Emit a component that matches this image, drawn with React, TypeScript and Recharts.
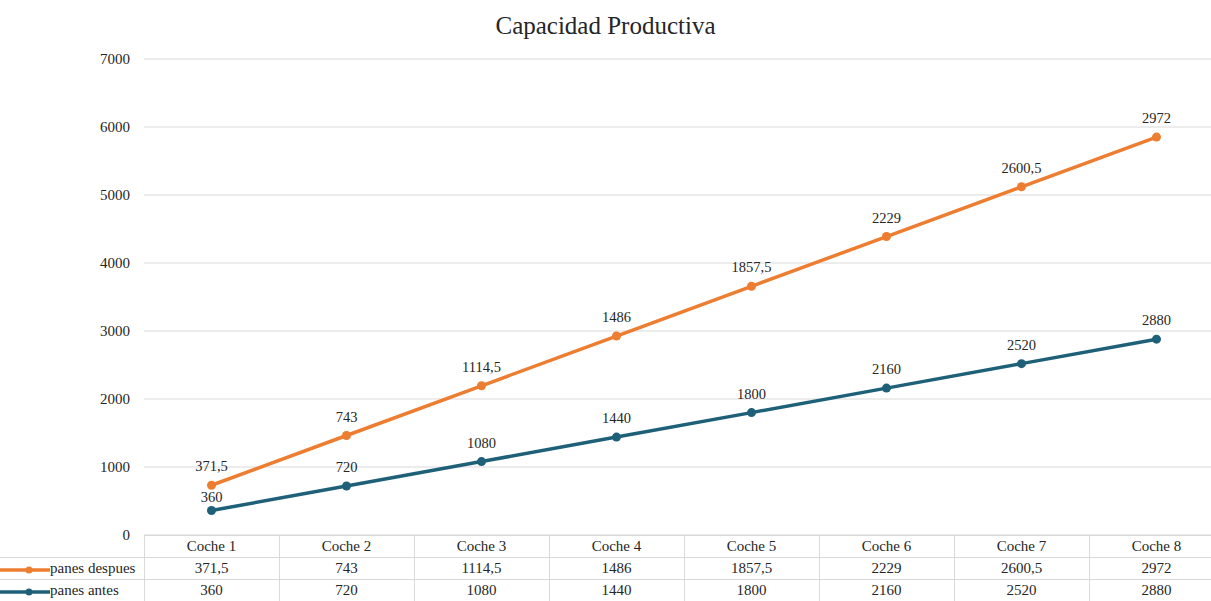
import { AreaChart, Area, XAxis, YAxis, CartesianGrid, LabelList } from "recharts";

const coches = ["Coche 1", "Coche 2", "Coche 3", "Coche 4", "Coche 5", "Coche 6", "Coche 7", "Coche 8"];
const panesDespues = [371.5, 743, 1114.5, 1486, 1857.5, 2229, 2600.5, 2972];
const panesAntes = [360, 720, 1080, 1440, 1800, 2160, 2520, 2880];
const yTicks = [0, 1000, 2000, 3000, 4000, 5000, 6000, 7000];

const ORANGE = "#ED7D31";
const BLUE = "#1F6079";
const FONT = "'Liberation Serif', 'Times New Roman', serif";
const GRID = "#d9d9d9";
const TEXT = "#262626";

const CHART_W = 1224;
const PLOT_LEFT = 144;
const PLOT_TOP = 59;
const PLOT_BOTTOM = 535;
const BAND = (CHART_W - PLOT_LEFT) / coches.length;
const ROW_H = 22;

const data = coches.map((coche, i) => ({
  coche,
  antes: panesAntes[i],
  despues: panesDespues[i],
}));

const fmt = (v: number) => String(v).replace(".", ",");

const series = [
  { name: "panes despues", values: panesDespues, color: ORANGE },
  { name: "panes antes", values: panesAntes, color: BLUE },
];

// solid round marker for each point
const makeDot = (color: string) => (props: any) => {
  const { cx, cy, index } = props;
  if (cx == null || cy == null) return <g key={index} />;
  return <circle key={index} cx={cx} cy={cy} r={4.5} fill={color} stroke="none" />;
};

// value label above the point; the first "antes" label sits closer so it
// stays clear of the orange line
const antesLabel = (props: any) => {
  const x = props.viewBox?.x ?? props.x;
  const y = props.viewBox?.y ?? props.y;
  const gap = props.index === 0 ? 9 : 14;
  return (
    <text
      x={x}
      y={y - gap}
      textAnchor="middle"
      fontSize={14.5}
      fill={TEXT}
      fontFamily={FONT}
    >
      {fmt(props.value)}
    </text>
  );
};

function LegendKey({ color }: { color: string }) {
  return (
    <svg width={50} height={10} style={{ verticalAlign: "middle" }}>
      <line x1={0} y1={5} x2={50} y2={5} stroke={color} strokeWidth={3.5} />
      <circle cx={29} cy={5} r={3.5} fill={color} />
    </svg>
  );
}

const cell: React.CSSProperties = {
  border: `1px solid ${GRID}`,
  height: ROW_H - 1,
  padding: 0,
  textAlign: "center",
  whiteSpace: "nowrap",
  lineHeight: "17px",
};

const labelStyle = { fontSize: 14.5, fill: TEXT, fontFamily: FONT };

export default function App() {
  return (
    <div
      style={{
        position: "absolute",
        left: 0,
        top: 0,
        width: 1211,
        height: 601,
        overflow: "hidden",
        background: "#fff",
        fontFamily: FONT,
        color: TEXT,
      }}
    >
      <div
        style={{
          position: "absolute",
          top: 12,
          left: 0,
          width: 1211,
          textAlign: "center",
          fontSize: 25,
          color: TEXT,
        }}
      >
        Capacidad Productiva
      </div>

      <div style={{ position: "absolute", left: 0, top: 0 }}>
        <AreaChart
          width={CHART_W}
          height={PLOT_BOTTOM + 12}
          data={data}
          margin={{ top: PLOT_TOP, right: 0, bottom: 12, left: 0 }}
        >
          <CartesianGrid vertical={false} stroke={GRID} />
          <XAxis dataKey="coche" hide padding={{ left: BAND / 2, right: BAND / 2 }} />
          <YAxis
            width={PLOT_LEFT}
            domain={[0, 7000]}
            ticks={yTicks}
            axisLine={false}
            tickLine={false}
            tickMargin={8}
            tick={{ fontSize: 15, fill: TEXT, fontFamily: FONT }}
          />
          <Area
            type="linear"
            dataKey="antes"
            stackId="panes"
            stroke={BLUE}
            strokeWidth={3.5}
            fill="none"
            fillOpacity={0}
            dot={makeDot(BLUE)}
            activeDot={false}
            isAnimationActive={false}
          >
            <LabelList dataKey="antes" content={antesLabel} />
          </Area>
          <Area
            type="linear"
            dataKey="despues"
            stackId="panes"
            stroke={ORANGE}
            strokeWidth={3.5}
            fill="none"
            fillOpacity={0}
            dot={makeDot(ORANGE)}
            activeDot={false}
            isAnimationActive={false}
          >
            <LabelList
              dataKey="despues"
              position="top"
              offset={14}
              formatter={(v: any) => fmt(v)}
              style={labelStyle}
            />
          </Area>
        </AreaChart>
      </div>

      {/* data table under the plot */}
      <table
        style={{
          position: "absolute",
          left: 0,
          top: PLOT_BOTTOM,
          width: CHART_W,
          borderCollapse: "collapse",
          tableLayout: "fixed",
          fontSize: 15,
          fontFamily: FONT,
          color: TEXT,
        }}
      >
        <colgroup>
          <col style={{ width: PLOT_LEFT }} />
          {coches.map((c) => (
            <col key={c} style={{ width: BAND }} />
          ))}
        </colgroup>
        <tbody>
          <tr>
            <td style={{ ...cell, border: "none", borderBottom: `1px solid ${GRID}`, borderRight: `1px solid ${GRID}` }} />
            {coches.map((c) => (
              <td key={c} style={cell}>
                {c}
              </td>
            ))}
          </tr>
          {series.map((s) => (
            <tr key={s.name}>
              <td style={{ ...cell, textAlign: "left", borderLeft: "none" }}>
                <LegendKey color={s.color} />
                {s.name}
              </td>
              {s.values.map((v, i) => (
                <td key={i} style={cell}>
                  {fmt(v)}
                </td>
              ))}
            </tr>
          ))}
        </tbody>
      </table>
    </div>
  );
}
